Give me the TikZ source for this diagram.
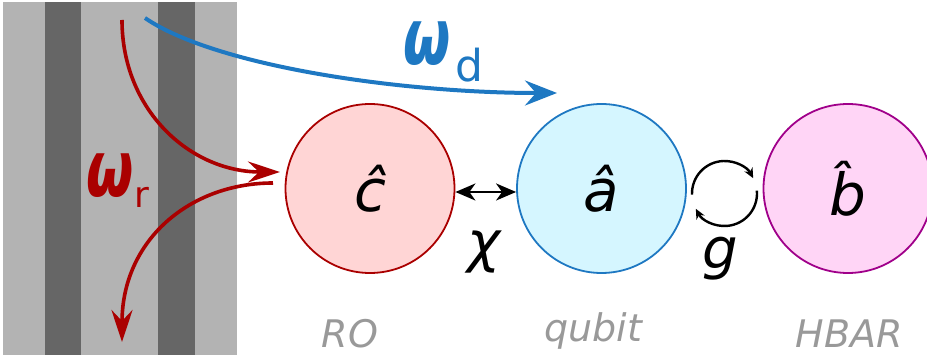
\documentclass[tikz,border=0pt]{standalone}
\usepackage{fontspec}
\setmainfont{DejaVu Sans}
\usetikzlibrary{arrows.meta}
\definecolor{rored}{HTML}{AA0000}
\definecolor{qblue}{HTML}{1E78C2}
\definecolor{hbpurple}{HTML}{A0008A}
\definecolor{rofill}{HTML}{FFD5D5}
\definecolor{qfill}{HTML}{D5F6FF}
\definecolor{hbfill}{HTML}{FFD5F6}
\definecolor{lgray}{HTML}{B3B3B3}
\definecolor{dgray}{HTML}{666666}
\definecolor{lblgray}{HTML}{999999}
\newcommand{\bigomega}{\scalebox{0.8}[1.15]{\fontsize{68}{68}\selectfont\bfseries\itshape ω}}
\begin{document}
\begin{tikzpicture}[x=1pt,y=1pt,
  mode/.style={circle,minimum size=169pt,inner sep=0pt,line width=1.8pt,
    font=\fontsize{58}{58}\selectfont\itshape},
  coup/.style={font=\fontsize{56}{56}\selectfont\itshape,inner sep=0pt},
  tag/.style={font=\fontsize{38}{38}\selectfont\itshape,text=lblgray,inner sep=0pt,anchor=base},
  drive/.style={line width=3.6pt,-{Stealth[length=32pt,width=21pt,inset=11pt]}},
  freq/.style={inner sep=0pt,anchor=base west}]
\useasboundingbox (0,0) rectangle (927,356);
% transmission line
\fill[lgray] (3,1) rectangle (237,354);
\fill[dgray] (45,1) rectangle (81,354);
\fill[dgray] (158,1) rectangle (195,354);
% modes
\node[mode,draw=rored,fill=rofill] (ro) at (370,167.5) {\^{c}};
\node[mode,draw=qblue,fill=qfill] (qb) at (601.5,167.5) {\^{a}};
\node[mode,draw=hbpurple,fill=hbfill] (hb) at (848,167.5) {\^{b}};
% labels
\node[tag] (lro) at (350,8) {RO};
\node[tag] (lqb) at (593,14) {qubit};
\node[tag] (lhb) at (849,8) {HBAR};
% chi coupling
\draw[line width=2.4pt,{Stealth[length=20pt,width=17pt,inset=6pt]}-{Stealth[length=20pt,width=17pt,inset=6pt]}]
  ([yshift=-3.5pt]ro.east) -- ([yshift=-3.5pt]qb.west);
\node[coup] (chi) at (484,104) {χ};
% g coupling cycle
\coordinate (gc) at (724.5,162.5);
\draw[line width=2.4pt,-{Stealth[length=10pt,width=9pt,inset=3pt]}] (gc) ++(182:32.5) arc[start angle=182,end angle=28,radius=32.5];
\draw[line width=2.4pt,-{Stealth[length=10pt,width=9pt,inset=3pt]}] (gc) ++(5:32.5) arc[start angle=5,end angle=-152,radius=32.5];
\node[coup] (g) at (720,97) {g};
% drives
\coordinate (r1s) at (122,336);
\coordinate (r1e) at (280,184);
\coordinate (r2s) at (273,173);
\coordinate (r2e) at (122,14);
\coordinate (bs) at (145,338);
\coordinate (be) at (557,263);
\draw[drive,rored] (r1s) .. controls (122,246) and (190,184) .. (r1e);
\draw[drive,rored] (r2s) .. controls (190,173) and (122,116) .. (r2e);
\draw[drive,qblue,line width=4pt,-{Stealth[length=32pt,width=25pt,inset=11pt]}] (bs) .. controls (215,290) and (400,263) .. (be);
\node[freq,text=rored] (wr) at (86,159)
  {\bigomega\hspace{1pt}\raisebox{-11pt}{\fontsize{36}{36}\selectfont r}};
\node[freq,text=qblue] (wd) at (403,291)
  {\bigomega\hspace{5pt}\raisebox{-17pt}{\fontsize{44}{44}\selectfont d}};
\end{tikzpicture}
\end{document}
